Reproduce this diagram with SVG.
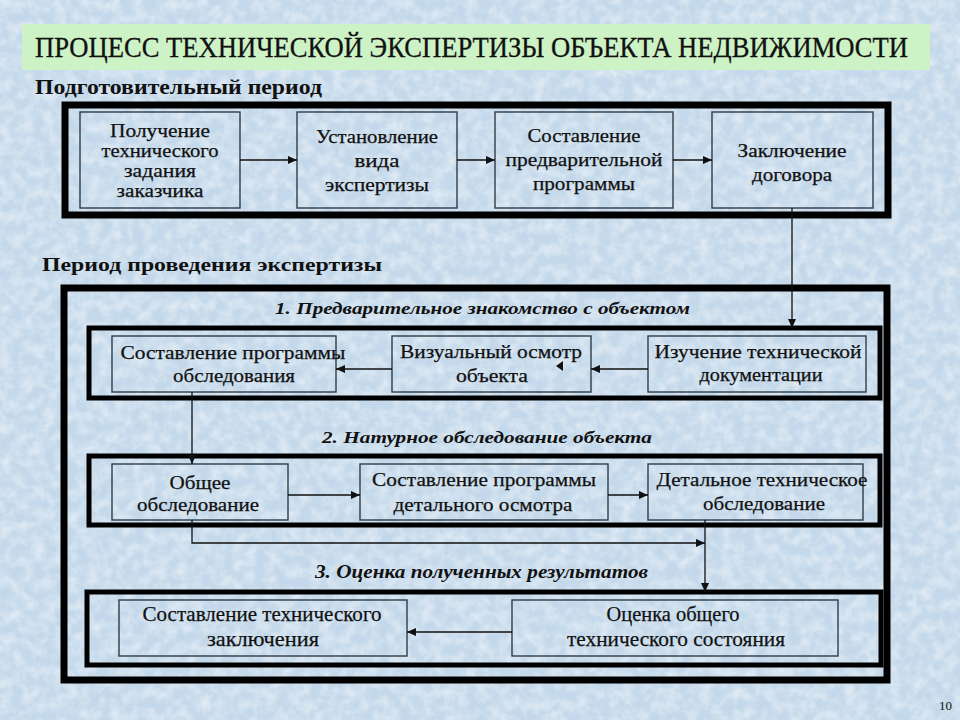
<svg xmlns="http://www.w3.org/2000/svg" width="960" height="720" viewBox="0 0 960 720">
<defs>
<marker id="ah" markerWidth="10" markerHeight="8" refX="9" refY="4" orient="auto" markerUnits="userSpaceOnUse">
<path d="M0,0 L9,4 L0,8 Z" fill="#111"/>
</marker>
<filter id="tex" x="0" y="0" width="100%" height="100%">
<feTurbulence type="fractalNoise" baseFrequency="0.09" numOctaves="3" seed="5"/>
<feColorMatrix type="matrix" values="0 0 0 0 1  0 0 0 0 1  0 0 0 0 1  0.9 0 0 0 -0.3"/>
</filter>
</defs>
<rect width="960" height="720" fill="#c3d8ea"/>
<rect width="960" height="720" filter="url(#tex)"/>

<g id="title">
<rect x="22" y="24" width="908" height="46" fill="#cdf2c6"/>
<text font-family="Liberation Serif" fill="#111" stroke="#111" stroke-width="0.3" x="35" y="57" font-size="30" textLength="873" lengthAdjust="spacingAndGlyphs">ПРОЦЕСС ТЕХНИЧЕСКОЙ ЭКСПЕРТИЗЫ ОБЪЕКТА НЕДВИЖИМОСТИ</text>
</g>

<g id="prep-period">
<text font-family="Liberation Serif" fill="#111" font-weight="bold" x="35" y="94" font-size="22" textLength="287" lengthAdjust="spacingAndGlyphs">Подготовительный период</text>
<rect x="65" y="105" width="823" height="110" fill="none" stroke="#000" stroke-width="7"/>
</g>

<g id="exp-period">
<text font-family="Liberation Serif" fill="#111" font-weight="bold" x="42" y="271" font-size="19" textLength="340" lengthAdjust="spacingAndGlyphs">Период проведения экспертизы</text>
<rect x="64" y="288" width="823" height="392" fill="none" stroke="#000" stroke-width="7"/>
</g>

<g id="stage1">
<text font-family="Liberation Serif" fill="#111" font-weight="bold" font-style="italic" font-size="17" x="275" y="314" textLength="415" lengthAdjust="spacingAndGlyphs">1. Предварительное знакомство с объектом</text>
<rect x="89" y="328" width="791" height="70" fill="none" stroke="#000" stroke-width="5"/>
</g>
<g id="stage2">
<text font-family="Liberation Serif" fill="#111" font-weight="bold" font-style="italic" font-size="17" x="322" y="443" textLength="330" lengthAdjust="spacingAndGlyphs">2. Натурное обследование объекта</text>
<rect x="89" y="456" width="791" height="69" fill="none" stroke="#000" stroke-width="5"/>
</g>
<g id="stage3">
<text font-family="Liberation Serif" fill="#111" font-weight="bold" font-style="italic" font-size="19" x="315" y="578" textLength="333" lengthAdjust="spacingAndGlyphs">3. Оценка полученных результатов</text>
<rect x="87" y="592" width="794" height="73" fill="none" stroke="#000" stroke-width="5"/>
</g>

<g font-family="Liberation Serif" font-size="19" text-anchor="middle" fill="#111">
<g id="n-poluchenie">
<rect x="80" y="112" width="160" height="96" fill="none" stroke="#2e3d48" stroke-width="1.4"/>
<g stroke="#111" stroke-width="0.25">
<text font-family="Liberation Serif" x="160" y="137" textLength="100" lengthAdjust="spacingAndGlyphs">Получение</text>
<text font-family="Liberation Serif" x="160" y="157" textLength="117" lengthAdjust="spacingAndGlyphs">технического</text>
<text font-family="Liberation Serif" x="160" y="177" textLength="72" lengthAdjust="spacingAndGlyphs">задания</text>
<text font-family="Liberation Serif" x="160" y="197" textLength="87" lengthAdjust="spacingAndGlyphs">заказчика</text>
</g>
</g>
<g id="n-ustanovlenie">
<rect x="297" y="112" width="160" height="96" fill="none" stroke="#2e3d48" stroke-width="1.4"/>
<g stroke="#111" stroke-width="0.25">
<text font-family="Liberation Serif" x="377" y="143" textLength="122" lengthAdjust="spacingAndGlyphs">Установление</text>
<text font-family="Liberation Serif" x="377" y="167" textLength="45" lengthAdjust="spacingAndGlyphs">вида</text>
<text font-family="Liberation Serif" x="377" y="191" textLength="104" lengthAdjust="spacingAndGlyphs">экспертизы</text>
</g>
</g>
<g id="n-sostavlenie-pred">
<rect x="495" y="112" width="178" height="96" fill="none" stroke="#2e3d48" stroke-width="1.4"/>
<g stroke="#111" stroke-width="0.25">
<text font-family="Liberation Serif" x="584" y="142" textLength="113" lengthAdjust="spacingAndGlyphs">Составление</text>
<text font-family="Liberation Serif" x="584" y="166" textLength="157" lengthAdjust="spacingAndGlyphs">предварительной</text>
<text font-family="Liberation Serif" x="584" y="190" textLength="102" lengthAdjust="spacingAndGlyphs">программы</text>
</g>
</g>
<g id="n-zaklyuchenie">
<rect x="712" y="112" width="161" height="96" fill="none" stroke="#2e3d48" stroke-width="1.4"/>
<g stroke="#111" stroke-width="0.25">
<text font-family="Liberation Serif" x="792" y="157" textLength="109" lengthAdjust="spacingAndGlyphs">Заключение</text>
<text font-family="Liberation Serif" x="792" y="181" textLength="80" lengthAdjust="spacingAndGlyphs">договора</text>
</g>
</g>

<g id="n-sost-prog-obsl">
<rect x="112" y="336" width="224" height="56" fill="none" stroke="#2e3d48" stroke-width="1.4"/>
<g stroke="#111" stroke-width="0.25">
<text font-family="Liberation Serif" x="233" y="359" textLength="225" lengthAdjust="spacingAndGlyphs">Составление программы</text>
<text font-family="Liberation Serif" x="234" y="382" textLength="122" lengthAdjust="spacingAndGlyphs">обследования</text>
</g>
</g>
<g id="n-vizualny">
<rect x="392" y="336" width="199" height="56" fill="none" stroke="#2e3d48" stroke-width="1.4"/>
<g stroke="#111" stroke-width="0.25">
<text font-family="Liberation Serif" x="491" y="358" textLength="182" lengthAdjust="spacingAndGlyphs">Визуальный осмотр</text>
<text font-family="Liberation Serif" x="492" y="382" textLength="72" lengthAdjust="spacingAndGlyphs">объекта</text>
</g>
<path d="M556,366 L563,361 L563,371 Z" fill="#111"/>
</g>
<g id="n-izuchenie">
<rect x="648" y="336" width="218" height="56" fill="none" stroke="#2e3d48" stroke-width="1.4"/>
<g stroke="#111" stroke-width="0.25">
<text font-family="Liberation Serif" x="758" y="358" textLength="207" lengthAdjust="spacingAndGlyphs">Изучение технической</text>
<text font-family="Liberation Serif" x="761" y="381" textLength="123" lengthAdjust="spacingAndGlyphs">документации</text>
</g>
</g>

<g id="n-obshee">
<rect x="112" y="464" width="176" height="56" fill="none" stroke="#2e3d48" stroke-width="1.4"/>
<g stroke="#111" stroke-width="0.25">
<text font-family="Liberation Serif" x="200" y="489" textLength="61" lengthAdjust="spacingAndGlyphs">Общее</text>
<text font-family="Liberation Serif" x="198" y="511" textLength="122" lengthAdjust="spacingAndGlyphs">обследование</text>
</g>
</g>
<g id="n-sost-prog-det">
<rect x="360" y="464" width="248" height="56" fill="none" stroke="#2e3d48" stroke-width="1.4"/>
<g stroke="#111" stroke-width="0.25">
<text font-family="Liberation Serif" x="484" y="486" textLength="224" lengthAdjust="spacingAndGlyphs">Составление программы</text>
<text font-family="Liberation Serif" x="483" y="511" textLength="179" lengthAdjust="spacingAndGlyphs">детального осмотра</text>
</g>
</g>
<g id="n-detalnoe">
<rect x="648" y="464" width="215" height="56" fill="none" stroke="#2e3d48" stroke-width="1.4"/>
<g stroke="#111" stroke-width="0.25">
<text font-family="Liberation Serif" x="762" y="486" textLength="211" lengthAdjust="spacingAndGlyphs">Детальное техническое</text>
<text font-family="Liberation Serif" x="764" y="510" textLength="122" lengthAdjust="spacingAndGlyphs">обследование</text>
</g>
</g>

<g id="n-sost-zakl">
<rect x="119" y="600" width="288" height="56" fill="none" stroke="#2e3d48" stroke-width="1.4"/>
<g stroke="#111" stroke-width="0.25">
<text font-family="Liberation Serif" x="262" y="621" font-size="21" textLength="239" lengthAdjust="spacingAndGlyphs">Составление технического</text>
<text font-family="Liberation Serif" x="263" y="646" font-size="21" textLength="112" lengthAdjust="spacingAndGlyphs">заключения</text>
</g>
</g>
<g id="n-ocenka">
<rect x="512" y="600" width="326" height="56" fill="none" stroke="#2e3d48" stroke-width="1.4"/>
<g stroke="#111" stroke-width="0.25">
<text font-family="Liberation Serif" x="673" y="621" font-size="21" textLength="133" lengthAdjust="spacingAndGlyphs">Оценка общего</text>
<text font-family="Liberation Serif" x="676" y="646" font-size="21" textLength="218" lengthAdjust="spacingAndGlyphs">технического состояния</text>
</g>
</g>
</g>

<g id="connectors" fill="none" stroke="#111" stroke-width="1.3">
<line x1="240" y1="160" x2="297" y2="160" marker-end="url(#ah)"/>
<line x1="457" y1="160" x2="495" y2="160" marker-end="url(#ah)"/>
<line x1="673" y1="160" x2="712" y2="160" marker-end="url(#ah)"/>
<line x1="792" y1="208" x2="792" y2="328" marker-end="url(#ah)"/>
<line x1="648" y1="369" x2="591" y2="369" marker-end="url(#ah)"/>
<line x1="392" y1="369" x2="336" y2="369" marker-end="url(#ah)"/>
<line x1="192" y1="392" x2="192" y2="464" marker-end="url(#ah)"/>
<line x1="288" y1="495" x2="360" y2="495" marker-end="url(#ah)"/>
<line x1="608" y1="495" x2="648" y2="495" marker-end="url(#ah)"/>
<polyline points="192,520 192,543 705,543" marker-end="url(#ah)"/>
<line x1="705" y1="520" x2="705" y2="592" marker-end="url(#ah)"/>
<line x1="512" y1="632" x2="407" y2="632" marker-end="url(#ah)"/>
</g>

<text font-family="Liberation Serif" fill="#111" x="952" y="710" font-size="13" text-anchor="end">10</text>
</svg>
